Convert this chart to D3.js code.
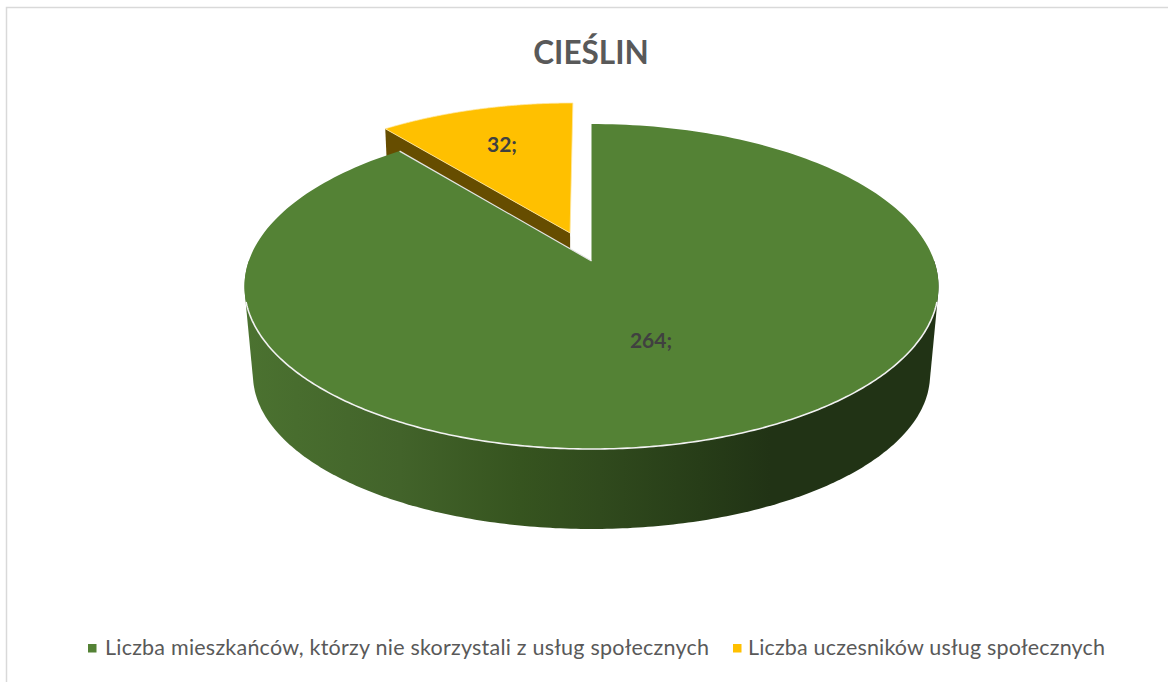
<!DOCTYPE html>
<html><head><meta charset="utf-8">
<script src="https://cdn.jsdelivr.net/npm/d3@7"></script>
<style>html,body{margin:0;background:#fff}svg{display:block}text{font-family:Lato,sans-serif}</style>
</head><body><svg id="c" width="1168" height="682"></svg>
<script>
const title = "CIEŚLIN";
const categories = ["Liczba mieszkańców, którzy nie skorzystali z usług społecznych", "Liczba uczesników usług społecznych"];
const values = [264, 32];
const labels = ["264;", "32;"];
const colors = ["#548235", "#ffc000"];
const wallColors = ["#213315", "#664d00"];
const wallStops = [[245,"#4b7230"],[400,"#42632a"],[520,"#36541f"],[600,"#304a1d"],[700,"#273d18"],[770,"#213315"],[940,"#213315"]];
const explode = [0, 0.193];

const svg = d3.select("#c");
const W = 1168, H = 682;
// frame: only top and left edges show in the reference
svg.append("path").attr("d", `M6.5,${H}V7.5H${W}`).attr("fill","none").attr("stroke","#d9d9d9").attr("stroke-width",1.5);

const defs = svg.append("defs");
const grad = defs.append("linearGradient").attr("id","wall").attr("gradientUnits","userSpaceOnUse")
  .attr("x1",245).attr("x2",940).attr("y1",0).attr("y2",0);
const gx = d3.scaleLinear().domain([245,940]).range([0,1]);
wallStops.forEach(s => grad.append("stop").attr("offset",gx(s[0])).attr("stop-color",s[1]));

// perspective projection of a unit disc (u right, v towards viewer), h=0 top, h=1 base
const apex = [591.5, 261], A = 342.7, B = 158.5, p = 0.157, q = 0.0245, Bb = 139.9, Hb = 92.6;
function project(u, v, h) {
  const w = 1 - p*v + q*h;
  return [apex[0] + A*u/w, apex[1] + (h ? Bb*v + Hb : B*v)/w];
}
const pie = d3.pie().sort(null).value(d => d);
const arcs = pie(values);
const line = d3.line();
const pt = (a, e, mid, h) => project(Math.sin(a) + e*Math.sin(mid), -Math.cos(a) - e*Math.cos(mid), h);
const rim = (a0, a1, e, mid, h) => d3.range(0, 241).map(i => pt(a0 + (a1-a0)*i/240, e, mid, h));
const apexPt = (e, mid, h) => project(e*Math.sin(mid), -e*Math.cos(mid), h);

// yellow slice (behind)
const y = arcs[1], ym = (y.startAngle + y.endAngle)/2, ye = explode[1];
svg.append("path").attr("fill", wallColors[1]).attr("d", line([
  apexPt(ye, ym, 0), pt(y.startAngle, ye, ym, 0), pt(y.startAngle, ye, ym, 1), apexPt(ye, ym, 1)]) + "Z");
svg.append("path").attr("fill", colors[1]).attr("stroke", "#ffe9a6").attr("stroke-width", 0.8)
  .attr("d", line([apexPt(ye, ym, 0), ...rim(y.startAngle, y.endAngle, ye, ym, 0)]) + "Z");

// green slice wall: convex hull of the front half of both rims
const g = arcs[0];
const hull = d3.polygonHull([...rim(Math.PI/2, 3*Math.PI/2, 0, 0, 0), ...rim(Math.PI/2, 3*Math.PI/2, 0, 0, 1)]);
svg.append("path").attr("fill", "url(#wall)").attr("d", line(hull) + "Z");
// green top face
svg.append("path").attr("fill", colors[0]).attr("d", line([apexPt(0,0,0), ...rim(g.startAngle, g.endAngle, 0, 0, 0)]) + "Z");
// light rim along front and along the cut edge
svg.append("path").attr("fill","none").attr("stroke","#f2f2f2").attr("stroke-width",1.6)
  .attr("d", line(rim(Math.PI*0.58, Math.PI*1.42, 0, 0, 0)));
svg.append("path").attr("fill","none").attr("stroke","#e6e6e6").attr("stroke-width",1.2)
  .attr("d", line([apexPt(0,0,0), pt(g.endAngle, 0, 0, 0)]));

// title and data labels
svg.append("text").attr("x",591).attr("y",64).attr("text-anchor","middle")
  .attr("font-size",31.5).attr("font-weight",700).attr("fill","#595959").text(title);
const labelPos = [[651,341],[502,145]];
labels.forEach((t,i) => svg.append("text").attr("x",labelPos[i][0]).attr("y",labelPos[i][1]+7)
  .attr("text-anchor","middle").attr("font-size",21).attr("font-weight",700).attr("fill","#404040").text(t));

// legend
const legendPos = [[88,105,604],[733,748,357]];
categories.forEach((t,i) => {
  const [sx,tx,len] = legendPos[i];
  svg.append("rect").attr("x",sx).attr("y",644).attr("width",8.5).attr("height",8.5).attr("fill",colors[i]);
  svg.append("text").attr("x",tx).attr("y",655).attr("font-size",21.5).attr("fill","#595959")
    .attr("textLength",len).attr("lengthAdjust","spacing").text(t);
});
</script></body></html>
